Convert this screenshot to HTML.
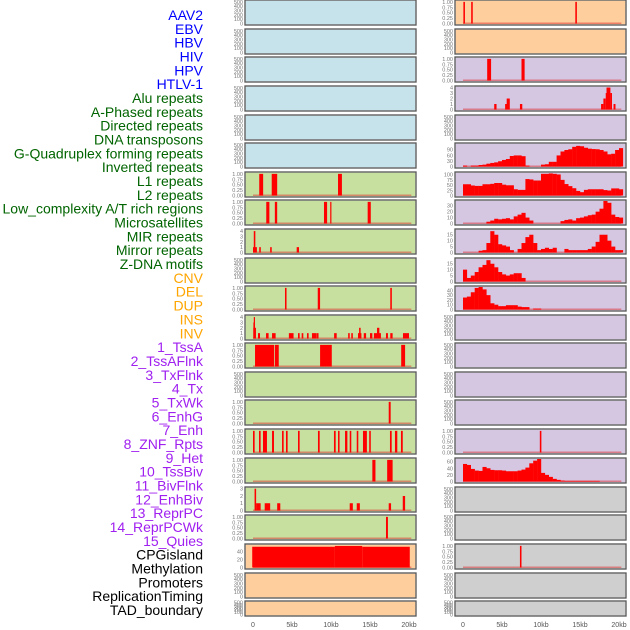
<!DOCTYPE html>
<html><head><meta charset="utf-8"><style>
body{margin:0;background:#fff;}
svg{display:block;font-family:"Liberation Sans",sans-serif;}
</style></head><body>
<svg id="chart" width="630" height="630" viewBox="0 0 630 630" xmlns="http://www.w3.org/2000/svg"></svg>
<script>
// ---- data ----
const trackLabels=["AAV2","EBV","HBV","HIV","HPV","HTLV-1","Alu repeats","A-Phased repeats","Directed repeats","DNA transposons","G-Quadruplex forming repeats","Inverted repeats","L1 repeats","L2 repeats","Low_complexity A/T rich regions","Microsatellites","MIR repeats","Mirror repeats","Z-DNA motifs","CNV","DEL","DUP","INS","INV","1_TssA","2_TssAFlnk","3_TxFlnk","4_Tx","5_TxWk","6_EnhG","7_Enh","8_ZNF_Rpts","9_Het","10_TssBiv","11_BivFlnk","12_EnhBiv","13_ReprPC","14_ReprPCWk","15_Quies","CPGisland","Methylation","Promoters","ReplicationTiming","TAD_boundary"];
const xTickValues=[0,5,10,15,20];
const xTickLabels=["0","5kb","10kb","15kb","20kb"];
const emptyTicks=[0,100,200,300,400,500];
const binaryTicks=[0,0.25,0.5,0.75,1];
const binaryTickLabels=["0.00","0.25","0.50","0.75","1.00"];
// bars: [startKb, endKb, value]
const L6bars=[[0.8,1.3,1],[2.4,3.1,1],[10.9,11.4,1]];
const L7bars=[[1.7,2.1,1],[2.8,3.1,1],[9.1,9.5,1],[9.9,10.05,1],[14.7,15.1,1]];
const L8bars=[[0,0.5,1],[0.1,0.3,4],[0.8,1.0,1],[2.2,2.4,1],[5.6,5.9,1]];
const L10bars=[[4.1,4.3,1],[8.3,8.6,1],[17.6,17.8,1]];
const L11bars=[[0.04,0.38,2],[0.1,0.25,4],[0.05,0.15,3],[0.64,0.9,1],[1.67,2.0,1],[2.44,2.9,1],[4.6,5.2,1],[5.77,5.98,1],[6.24,6.45,1],[6.92,7.13,1],[7.56,8.17,1],[8.2,8.4,1],[10.4,10.73,1],[12.2,12.4,1],[12.6,12.8,1],[13.46,13.9,1],[13.6,13.8,2],[14.2,14.5,1],[15.0,15.3,1],[15.5,16.4,1],[15.9,16.2,2],[17.05,17.3,1],[17.6,17.9,1],[19.23,20.0,1]];
const L12bars=[[0.26,2.7,1],[2.8,3.3,1],[8.6,10.1,1],[19.0,19.5,1]];
const L14bars=[[17.4,17.65,1]];
const L15bars=[[0.0,0.21,1],[0.77,0.98,1],[1.28,1.79,1],[2.44,2.69,1],[3.72,3.93,1],[4.23,4.44,1],[5.77,5.98,1],[8.33,8.55,1],[10.38,10.6,1],[10.9,11.1,1],[11.8,12.1,1],[12.4,12.6,1],[13.3,13.5,1],[14.1,14.6,1],[14.9,15.1,1],[17.56,17.78,1],[18.2,18.5,1],[18.97,19.2,1]];
const L16bars=[[15.3,15.7,1],[17.2,17.9,1]];
const L17bars=[[0.2,0.4,3],[0.4,0.98,1],[1.5,2.2,1],[3.1,3.5,1],[12.4,12.8,1],[13.3,13.7,1],[17.4,17.7,1],[19.2,19.5,2]];
const L18bars=[[17.05,17.3,1]];
const L19bars=[[-0.1,10.5,52],[10.5,14,54],[14,20.1,52]];
const R0bars=[[0.05,0.25,1],[1.05,1.25,1],[14.4,14.6,1]];
const R2bars=[[3.1,3.6,1],[7.5,7.9,1]];
const R3bars=[[4.0,4.3,1],[5.4,5.7,1],[5.6,6.0,2],[7.3,7.6,1],[17.7,18.0,1],[18.0,18.3,2],[18.3,18.5,3],[18.4,18.9,4],[18.9,19.1,3],[19.3,19.55,1]];
const R15bars=[[9.85,10.05,1]];
const R19bars=[[7.3,7.5,1]];
// histograms: values per 0.5kb bin from 0kb
const R5hist=[5,0,5,5,8,10,15,19,22,28,35,40,56,59,59,55,5,0,0,0,10,12,25,25,59,80,88,92,105,110,108,100,95,93,92,88,80,65,68,88,98];
const R6hist=[54,54,48,46,46,54,54,56,60,60,52,49,49,30,27,27,79,77,72,72,104,104,106,104,101,75,55,45,35,22,16,27,30,30,30,30,26,24,34,34,30];
const R7hist=[0,0,0,0,0,0,3,5,8,7,8,9,7,12,15,18,10,5,0,0,0,0,0,0,0,4,6,7,5,9,10,12,14,15,20,25,38,35,15,11,10];
const R8hist=[0,0,0,0,1.5,2,8,18,15,7,6,5,2,0,3,8,13,15,8,2,3,4,3,4,0,0,3,2,2,2,2,2,3,5,9,15,15,10,5,2,2];
const R9hist=[10,3,5,8,12,14,18,15,12,8,6,5,6,7,7,3,0,0,0,0,0,0,0,0,0,0,0,0,0,0,0,0,0,0,0,0,0,0,0,0,0];
const R10hist=[25,27,36,45,47,42,30,13,10,7,7,9,9,9,6,5,5,0,2,2,0,0,0,0,0,0,0,0,0,0,0,0,0,0,0,0,0,0,0,0,0];
const R16hist=[53,50,38,33,32,44,40,35,34,34,33,31,31,31,33,36,42,55,63,68,26,20,14,8,5,3,2,2,2,2,2,2,2,2,2,0,0,0,0,0,0];
// y tick sets
const ticks4=[0,1,2,3,4], ticks3=[0,1,2,3];
const ticksCpg=[0,20,40], ticksG=[0,30,60,90], ticksL1=[0,25,50,75,100];
const ticks30=[0,10,20,30], ticks15=[0,5,10,15], ticks40=[0,10,20,30,40], ticks60=[0,20,40,60];

// ---- layout ----
const rowTops=[0,29,57,86,115,143,172,200,229,258,286,315,343,372,400,429,458,487,515,544,573,601];
const BLUE="#c6e3ec",GREEN="#c7e09f",ORANGE="#fece9c",PURPLE="#d5c6e2",GRAY="#cfcfcf";
const sides={L:{x:245,w:171,x0:253},R:{x:455,w:171,x0:463}};
const KB=7.8;
function panel(side,row,bg,opts){return Object.assign({side,row,bg},opts||{});}
const panels=[];
for(let r=0;r<6;r++)panels.push(panel('L',r,BLUE));
const lgreen={6:{bars:L6bars},7:{bars:L7bars},8:{bars:L8bars,ticks:ticks4,dom:4.2},9:{},10:{bars:L10bars},11:{bars:L11bars,ticks:ticks4,dom:4.2},12:{bars:L12bars},13:{},14:{bars:L14bars},15:{bars:L15bars},16:{bars:L16bars},17:{bars:L17bars,ticks:ticks3,dom:3.1},18:{bars:L18bars}};
for(let r=6;r<=18;r++)panels.push(panel('L',r,GREEN,lgreen[r]));
panels.push(panel('L',19,ORANGE,{bars:L19bars,ticks:ticksCpg,dom:56.4}));
panels.push(panel('L',20,ORANGE));panels.push(panel('L',21,ORANGE));
panels.push(panel('R',0,ORANGE,{bars:R0bars}));
panels.push(panel('R',1,ORANGE));
const rp={2:{bars:R2bars},3:{bars:R3bars,ticks:ticks4,dom:4.1},5:{hist:R5hist,ticks:ticksG,dom:120},6:{hist:R6hist,ticks:ticksL1,dom:108},7:{hist:R7hist,ticks:ticks30,dom:38},8:{hist:R8hist,ticks:ticks15,dom:19},9:{hist:R9hist,ticks:ticks15,dom:19},10:{hist:R10hist,ticks:ticks40,dom:47},15:{bars:R15bars},16:{hist:R16hist,ticks:ticks60,dom:68}};
for(let r=2;r<=16;r++)panels.push(panel('R',r,PURPLE,rp[r]));
panels.push(panel('R',17,GRAY));panels.push(panel('R',18,GRAY));
panels.push(panel('R',19,GRAY,{bars:R19bars}));
panels.push(panel('R',20,GRAY));panels.push(panel('R',21,GRAY));

const NS="http://www.w3.org/2000/svg";
const svg=document.getElementById('chart');
function mk(tag,attrs,parent){const e=document.createElementNS(NS,tag);for(const k in attrs)e.setAttribute(k,attrs[k]);(parent||svg).appendChild(e);return e;}

// labels
trackLabels.forEach((t,i)=>{
  let c=i<6?"#0000ff":i<19?"#006400":i<24?"#ffa500":i<39?"#a020f0":"#000000";
  const y=15+i*(595/(trackLabels.length-1))+5;
  const e=mk('text',{x:203,y:y.toFixed(1),'text-anchor':'end','font-size':'14',fill:c});
  e.textContent=t;
  
  
});

panels.forEach(p=>{
  const s=sides[p.side];
  const top=rowTops[p.row];
  const ph=p.row===21?15:25;
  const g=mk('g',{});
  
  
  mk('rect',{x:s.x,y:top,width:s.w,height:ph,fill:p.bg,stroke:'#aaa',"stroke-width":1.6},g);
  const y0=top+ph-1.5, h=ph-2.5;
  const isData=p.bars||p.hist;
  const ticks=p.ticks||(isData?binaryTicks:emptyTicks);
  const dom=p.dom||(isData?1.04:520);
  const yv=v=>y0-v/dom*h;
  const xk=kb=>s.x0+kb*KB;
  ticks.forEach((t,i)=>{
    const lab=(!p.ticks&&isData)?binaryTickLabels[i]:String(t);
    const e=mk('text',{x:s.x-2,y:(yv(t)+2).toFixed(1),'text-anchor':'end','font-size':'5.5',fill:'#777'},g);
    e.textContent=lab;
    
    
  });
  if(isData){
    const bl=mk('rect',{x:xk(0),y:y0-1,width:20.3*KB,height:1.5,fill:'#e03030',opacity:0.5},g);
    
    
  }
  if(p.bars)p.bars.forEach(b=>{
    const w=Math.max((b[1]-b[0])*KB,1.2);
    const r=mk('rect',{x:xk(b[0]),y:yv(b[2]),width:w,height:y0-yv(b[2]),fill:'#ff0000'},g);
    
    
  });
  if(p.hist)p.hist.forEach((v,k)=>{
    if(v<=0)return;
    const r=mk('rect',{x:xk(k*0.5),y:yv(v),width:0.5*KB+0.2,height:y0-yv(v),fill:'#ff0000'},g);
    
    
  });
  mk('rect',{x:s.x,y:top,width:s.w,height:ph,fill:'none',stroke:'#4a4a4a',"stroke-width":0.9},g);
});

// x axes
['L','R'].forEach(sd=>{
  const s=sides[sd];
  xTickValues.forEach((v,i)=>{
    const e=mk('text',{x:s.x0+v*KB,y:627,'text-anchor':'middle','font-size':'7',fill:'#555'});
    e.textContent=xTickLabels[i];
    
    
  });
});
</script>
</body></html>
